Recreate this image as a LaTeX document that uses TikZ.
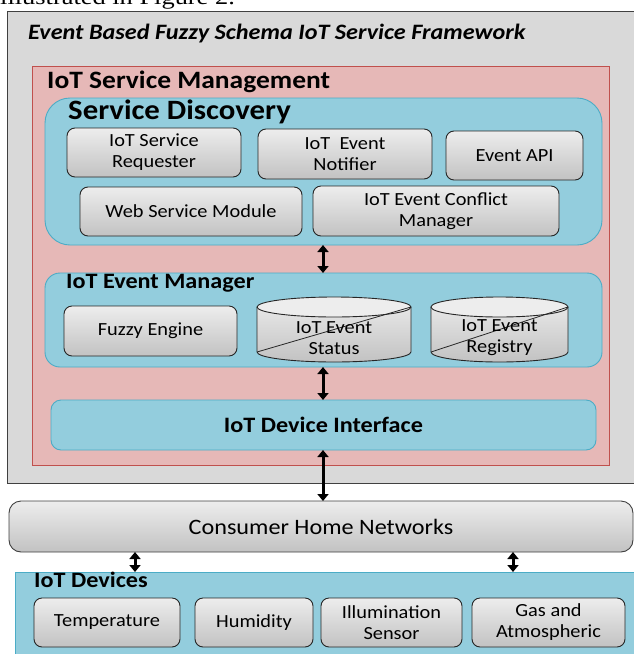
\documentclass[tikz,border=0pt]{standalone}
\usepackage{fontspec}
\newfontfamily\calfont{Carlito}[FakeStretch=1.1]
\newfontfamily\cutserif{Liberation Serif}[FakeStretch=1.2]
\usetikzlibrary{arrows.meta}
\definecolor{framegray}{HTML}{D9D9D9}
\definecolor{frameline}{HTML}{404040}
\definecolor{pinkfill}{HTML}{E6B8B7}
\definecolor{pinkline}{HTML}{C0504D}
\definecolor{bluefill}{HTML}{93CDDD}
\definecolor{blueline}{HTML}{4BACC6}
\definecolor{btop}{HTML}{EDEDED}
\definecolor{bbot}{HTML}{C2C2C2}
\begin{document}
\begin{tikzpicture}[x=1pt,y=1pt,
  cont/.style={anchor=north west, inner sep=0pt, outer sep=0pt},
  grayframe/.style={cont, fill=framegray, draw=frameline, line width=0.9pt},
  pinkframe/.style={cont, fill=pinkfill, draw=pinkline, line width=0.9pt},
  blueframe/.style={cont, fill=bluefill, draw=blueline, line width=0.9pt},
  ibox/.style={cont, draw=black!85, line width=0.9pt, rounded corners=8pt,
    top color=btop, bottom color=bbot, align=center,
    font=\calfont\fontsize{18.5}{21}\selectfont},
  head/.style={anchor=base west, inner sep=0pt, font=\calfont\bfseries\fontsize{22}{24}\selectfont},
  cyltext/.style={align=center, inner sep=0pt, font=\calfont\fontsize{18.5}{21}\selectfont},
  biarrow/.style={line width=3pt, {Triangle[length=7pt,width=11pt]}-{Triangle[length=7pt,width=11pt]}}
]
\useasboundingbox (0,0) rectangle (634,-654);
\clip (0,0) rectangle (634,-654);

% cut-off line of text above the figure
\node[anchor=base west, inner sep=0pt, font=\cutserif\fontsize{22}{24}\selectfont] (cut) at (0,-4.5) {illustrated in Figure 2.};

% outer frame
\node[grayframe, minimum width=640pt, minimum height=472pt] (frame) at (7,-11) {};
\node[head, font=\calfont\bfseries\itshape\fontsize{22}{24}\selectfont] (title) at (28,-39) {Event Based Fuzzy Schema IoT Service Framework};

% IoT Service Management
\node[pinkframe, minimum width=577pt, minimum height=399pt] (ism) at (32,-66) {};
\node[head, font=\calfont\bfseries\fontsize{25}{28}\selectfont] (ismlabel) at (47,-88) {IoT Service Management};

% Service Discovery
\node[blueframe, rounded corners=25pt, minimum width=557pt, minimum height=147pt] (sd) at (45,-98) {};
\node[head, font=\calfont\bfseries\fontsize{28}{32}\selectfont] (sdlabel) at (68,-119) {Service Discovery};
\node[ibox, minimum width=174pt, minimum height=49pt] (req) at (67,-128) {IoT Service\\Requester};
\node[ibox, minimum width=174pt, minimum height=50pt] (notif) at (258,-129) {IoT\ \ Event\\Notifier};
\node[ibox, minimum width=137pt, minimum height=49pt] (api) at (446,-131) {Event API};
\node[ibox, minimum width=222pt, minimum height=49pt] (web) at (80,-187) {Web Service Module};
\node[ibox, minimum width=246pt, minimum height=50pt] (conf) at (313,-186) {IoT Event Conflict\\Manager};

% IoT Event Manager
\node[blueframe, rounded corners=15pt, minimum width=557pt, minimum height=94pt] (em) at (45,-273) {};
\node[head] (emlabel) at (66,-288) {IoT Event Manager};
\node[ibox, minimum width=173pt, minimum height=50pt] (fuzzy) at (64,-306) {Fuzzy Engine};

% cylinders
\foreach \xa/\xb in {257/411, 431/568}{
  \pgfmathsetmacro{\rx}{(\xb-\xa)/2}
  \shade[top color=btop, bottom color=bbot]
    (\xa,-307) -- (\xa,-352) arc[start angle=180, end angle=360, x radius=\rx, y radius=10]
    -- (\xb,-307) arc[start angle=0, end angle=180, x radius=\rx, y radius=10] -- cycle;
  \draw[black!85, line width=0.9pt]
    (\xa,-307) -- (\xa,-352) arc[start angle=180, end angle=360, x radius=\rx, y radius=10]
    -- (\xb,-307);
  \draw[black!85, line width=0.9pt, fill=btop] ({(\xa+\xb)/2},-307) ellipse[x radius=\rx, y radius=10];
  \draw[black!85, line width=0.8pt] (\xa,-352) -- (\xb,-307);
}
\node[cyltext] (status) at (334,-338) {IoT Event\\Status};
\node[cyltext] (registry) at (499.5,-338) {IoT Event\\Registry};

% IoT Device Interface
\node[blueframe, rounded corners=10pt, minimum width=545pt, minimum height=50pt,
  font=\calfont\bfseries\fontsize{22}{24}\selectfont] (di) at (51,-400) {IoT Device Interface};

% Consumer Home Networks
\node[cont, draw=frameline, line width=0.9pt, rounded corners=12pt, top color=btop, bottom color=bbot,
  minimum width=624pt, minimum height=51pt, font=\calfont\fontsize{22}{24}\selectfont] (chn) at (9,-501) {Consumer Home Networks};

% IoT Devices
\node[blueframe, minimum width=640pt, minimum height=100pt] (dev) at (15,-572) {};
\node[head] (devlabel) at (34,-587) {IoT Devices};
\node[ibox, minimum width=146pt, minimum height=49pt] (temp) at (34,-598) {Temperature};
\node[ibox, minimum width=118pt, minimum height=49pt] (hum) at (195,-598) {Humidity};
\node[ibox, minimum width=141pt, minimum height=49pt] (ill) at (321,-598) {Illumination\\Sensor};
\node[ibox, minimum width=153pt, minimum height=49pt] (gas) at (472,-598) {Gas and\\Atmospheric};

% connectors
\coordinate (ax) at (323,0);
\coordinate (al) at (135,0);
\coordinate (ar) at (513,0);
\draw[biarrow] (sd.south -| ax) -- (em.north -| ax);
\draw[biarrow] (em.south -| ax) -- (di.north -| ax);
\draw[biarrow] (di.south -| ax) -- (chn.north -| ax);
\draw[biarrow] (chn.south -| al) -- (dev.north -| al);
\draw[biarrow] (chn.south -| ar) -- (dev.north -| ar);
\end{tikzpicture}
\end{document}
